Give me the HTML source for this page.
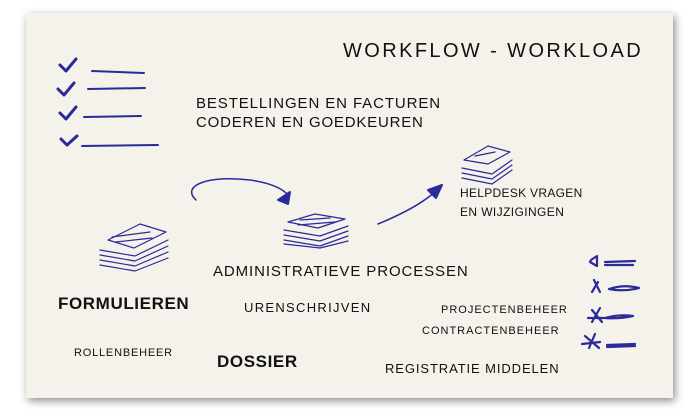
<!DOCTYPE html>
<html><head><meta charset="utf-8"><style>
html,body{margin:0;padding:0;background:#fff;}
body{width:700px;height:417px;position:relative;overflow:hidden;font-family:"Liberation Sans",sans-serif;color:#111;}
.paper{position:absolute;left:26px;top:13px;width:647px;height:385px;background:#f4f2ea;box-shadow:2px 3px 8px rgba(0,0,0,.45);}
.t{position:absolute;white-space:nowrap;text-transform:uppercase;line-height:1;}
svg{position:absolute;left:0;top:0;}
</style></head><body>
<div class="paper"></div>
<svg width="700" height="417" viewBox="0 0 700 417" fill="none" stroke="#2a2a9a" stroke-linecap="round" stroke-linejoin="round">
<g stroke-width="3">
<path d="M60 65 l6 6 l10 -12"/><path d="M58 89 l6 6 l10 -12"/><path d="M60 113 l6 6 l10 -12"/><path d="M61 139 l6 6 l10 -9"/>
</g>
<g stroke-width="2">
<path d="M92 71 L144 73"/><path d="M88 89 L145 88"/><path d="M84 117 L141 116"/><path d="M82 146 L158 145"/>
</g>
<path d="M196 200 C180 185 210 175 250 180 C270 183 282 188 288 195" stroke-width="1.5"/>
<path d="M278 200 L290 192 L288 204 Z" fill="#2a2a9a" stroke-width="2"/>
<path d="M378 224 C400 215 420 205 435 192" stroke-width="1.5"/>
<path d="M428 190 L442 185 L436 198 Z" fill="#2a2a9a" stroke-width="2"/>
<g stroke-width="1.2">
<path d="M108 240 L140 224 L166 232 L134 248 Z" fill="#f4f2ea"/>
<path d="M100 250 L135 256 L168 240 M100 255 L135 261 L168 246 M100 260 L135 266 L168 252 M100 265 L135 271 L168 258"/>
<path d="M112 237 L150 232 M116 242 L152 238"/>
<path d="M288 222 L315 214 L345 219 L318 228 Z" fill="#f4f2ea"/>
<path d="M284 230 L320 236 L348 226 M284 235 L320 241 L348 231 M284 240 L320 246 L348 236 M284 244 L320 248 L348 241"/>
<path d="M300 220 L330 218 M298 225 L335 222"/>
<path d="M464 160 L488 146 L510 152 L488 164 Z" fill="#f4f2ea"/>
<path d="M462 168 L492 174 L512 160 M462 173 L492 179 L512 165 M462 178 L492 184 L512 170"/>
<path d="M475 156 L495 152"/>
</g>
<g stroke-width="2.2">
<path d="M591 260 l6 -4 l0 10 l-7 -4 z"/><path d="M594 280 l6 12 M598 282 l-6 10"/><path d="M592 310 l10 12 M600 308 l-8 14 M588 318 l16 0"/><path d="M585 336 l14 12 M595 334 l-6 14 M582 344 l18 -2"/>
<path d="M605 262 l30 -1 M605 265 l28 0"/><path d="M609 289 q15 -5 30 -1 q-15 4 -30 1"/><path d="M605 318 q15 -4 28 -2 q-14 3 -28 2"/><path d="M607 345 l28 -1 M607 347 l28 -1"/>
</g>
</svg>
<div class="t" style="left:343px;top:41px;font-size:20px;letter-spacing:2.4px;">Workflow - Workload</div>
<div class="t" style="left:196px;top:96px;font-size:15px;letter-spacing:0.9px;">Bestellingen en facturen</div>
<div class="t" style="left:196px;top:115px;font-size:15px;letter-spacing:0.8px;">Coderen en goedkeuren</div>
<div class="t" style="left:460px;top:187px;font-size:12px;letter-spacing:0.3px;">Helpdesk vragen</div>
<div class="t" style="left:460px;top:206px;font-size:12px;letter-spacing:0.4px;">en wijzigingen</div>
<div class="t" style="left:213px;top:264px;font-size:15px;letter-spacing:0.9px;">Administratieve processen</div>
<div class="t" style="left:58px;top:295px;font-size:17px;font-weight:bold;letter-spacing:0.6px;">Formulieren</div>
<div class="t" style="left:244px;top:301px;font-size:13px;letter-spacing:1.3px;">Urenschrijven</div>
<div class="t" style="left:74px;top:348px;font-size:11px;letter-spacing:0.8px;">Rollenbeheer</div>
<div class="t" style="left:217px;top:353px;font-size:17px;font-weight:bold;letter-spacing:0.6px;">Dossier</div>
<div class="t" style="left:441px;top:305px;font-size:11px;letter-spacing:1px;">Projectenbeheer</div>
<div class="t" style="left:422px;top:326px;font-size:11px;letter-spacing:1px;">Contractenbeheer</div>
<div class="t" style="left:385px;top:362px;font-size:13px;letter-spacing:0.9px;">Registratie middelen</div>
</body></html>
